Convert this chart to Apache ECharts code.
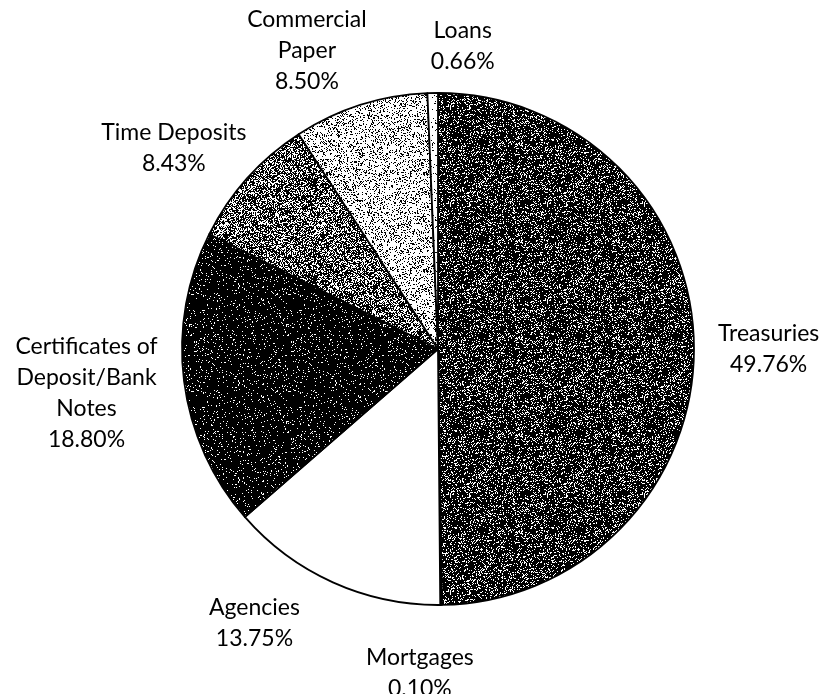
<!DOCTYPE html>
<html>
<head>
<meta charset="utf-8">
<script src="https://cdn.jsdelivr.net/npm/echarts@6/dist/echarts.min.js"></script>
<style>
html,body{margin:0;padding:0;background:#fff;}
#chart{width:827px;height:694px;}
</style>
</head>
<body>
<div id="chart"></div>
<script>
// ---- data ----
const categories = ['Treasuries', 'Mortgages', 'Agencies', 'Certificates of\nDeposit/Bank\nNotes', 'Time Deposits', 'Commercial\nPaper', 'Loans'];
const values = [49.76, 0.10, 13.75, 18.80, 8.43, 8.50, 0.66];

// ---- style / layout ----
const stippleDensity = [0.80, 0.85, 0.0, 0.93, 0.60, 0.22, 0.06];
const labelNudge = [[10, 2], [-22, 23], [-54, 0], [-13, 3], [-9, 0], [-31, 3], [31, -2]];
const CX = 438, CY = 349, R = 256, GAP = 14;

function hash(x, y, s) {
  let h = (x * 374761393 + y * 668265263 + s * 2147483647) | 0;
  h = (h ^ (h >>> 13)) * 1274126177 | 0;
  h = h ^ (h >>> 16);
  return ((h >>> 0) % 10000) / 10000;
}
function stipple(density, seed) {
  const c = document.createElement('canvas');
  c.width = 97; c.height = 97;
  const ctx = c.getContext('2d');
  const img = ctx.createImageData(97, 97);
  for (let y = 0; y < 97; y++) {
    for (let x = 0; x < 97; x++) {
      const k = (y * 97 + x) * 4;
      const v = hash(x, y, seed) < density ? 0 : 255;
      img.data[k] = v; img.data[k + 1] = v; img.data[k + 2] = v; img.data[k + 3] = 255;
    }
  }
  ctx.putImageData(img, 0, 0);
  return c;
}

const total = values.reduce((a, b) => a + b, 0);
const midAngles = [];
let acc = 0;
values.forEach(v => { midAngles.push((acc + v / 2) / total * 2 * Math.PI); acc += v; });

const chart = echarts.init(document.getElementById('chart'), null, {renderer: 'canvas'});
chart.setOption({
  backgroundColor: '#fff',
  animation: false,
  series: [{
    type: 'pie',
    center: [CX, CY],
    radius: R,
    startAngle: 90,
    clockwise: true,
    minAngle: 0,
    avoidLabelOverlap: false,
    data: categories.map((n, i) => ({
      name: n,
      value: values[i],
      itemStyle: {
        color: stippleDensity[i] > 0 ? {image: stipple(stippleDensity[i], i + 3), repeat: 'repeat'} : '#ffffff'
      }
    })),
    itemStyle: {borderColor: '#000', borderWidth: 1.8},
    label: {
      show: true,
      position: 'outside',
      formatter: p => p.name + '\n' + p.value.toFixed(2) + '%',
      fontFamily: "Lato, 'DejaVu Sans Condensed', sans-serif",
      fontSize: 23,
      lineHeight: 31,
      color: '#000',
      align: 'center'
    },
    labelLine: {show: false},
    emphasis: {disabled: true},
    labelLayout: function (params) {
      const i = params.dataIndex;
      const a = midAngles[i];
      const dx = Math.sin(a), dy = -Math.cos(a);
      const w = params.labelRect.width, h = params.labelRect.height;
      const px = CX + dx * (R + GAP), py = CY + dy * (R + GAP);
      return {
        x: px + dx * w / 2 + labelNudge[i][0],
        y: py + dy * h / 2 + labelNudge[i][1],
        align: 'center',
        verticalAlign: 'middle'
      };
    }
  }]
});
</script>
</body>
</html>
